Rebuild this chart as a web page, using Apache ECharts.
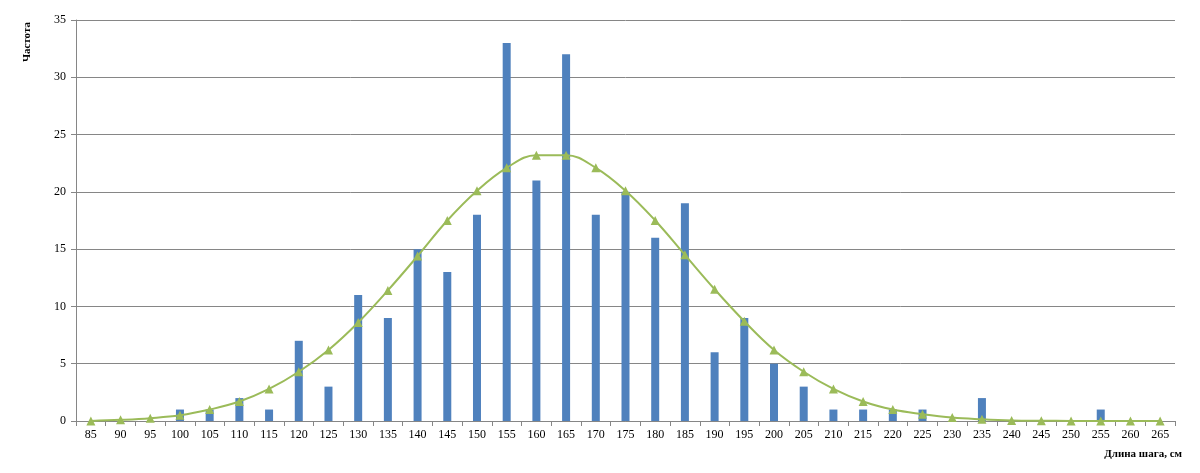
<!DOCTYPE html>
<html>
<head>
<meta charset="utf-8">
<script src="https://cdn.jsdelivr.net/npm/echarts@6/dist/echarts.min.js"></script>
<style>html,body{margin:0;padding:0;background:#fff}#chart{width:1200px;height:473px}</style>
</head>
<body>
<div id="chart"></div>
<script>
const categories = ['85','90','95','100','105','110','115','120','125','130','135','140','145','150','155','160','165','170','175','180','185','190','195','200','205','210','215','220','225','230','235','240','245','250','255','260','265'];
const frequency = [0,0,0,1,1,2,1,7,3,11,9,15,13,18,33,21,32,18,20,16,19,6,9,5,3,1,1,1,1,0,2,0,0,0,1,0,0];
const normalCurve = [0,0.1,0.25,0.5,1.0,1.7,2.8,4.3,6.2,8.6,11.4,14.4,17.5,20.1,22.1,23.2,23.2,22.1,20.1,17.5,14.5,11.5,8.7,6.2,4.3,2.8,1.7,1.0,0.6,0.3,0.15,0.05,0.02,0.01,0,0,0];

const chart = echarts.init(document.getElementById('chart'));
const font = '"Liberation Serif", "DejaVu Serif", serif';
chart.setOption({
  animation: false,
  graphic: [
    { type: 'text', left: 22, top: 22, rotation: Math.PI / 2,
      style: { text: 'Частота', fontFamily: font, fontWeight: 'bold', fontSize: 11, fill: '#000' } },
    { type: 'text', right: 18, top: 449,
      style: { text: 'Длина шага, см', fontFamily: font, fontWeight: 'bold', fontSize: 11, fill: '#000' } }
  ],
  grid: { left: 76, right: 25, top: 20, bottom: 52, outerBoundsMode: 'none' },
  xAxis: {
    type: 'category',
    data: categories,
    axisLine: { lineStyle: { color: '#868686' } },
    axisTick: { show: true, lineStyle: { color: '#868686' } },
    axisLabel: { fontFamily: font, fontSize: 12, color: '#000', interval: 0, margin: 8 }
  },
  yAxis: {
    type: 'value',
    min: 0, max: 35, interval: 5,
    axisLine: { show: true, lineStyle: { color: '#868686' } },
    axisTick: { show: true, lineStyle: { color: '#868686' } },
    splitLine: { lineStyle: { color: '#868686' } },
    axisLabel: { fontFamily: font, fontSize: 12, color: '#000', margin: 10 }
  },
  series: [
    {
      type: 'bar',
      data: frequency,
      barWidth: 8,
      itemStyle: { color: '#4F81BD' }
    },
    {
      type: 'line',
      data: normalCurve,
      smooth: 0.4,
      symbol: 'triangle',
      symbolSize: 9,
      lineStyle: { color: '#9BBB59', width: 2 },
      itemStyle: { color: '#9BBB59' }
    }
  ]
});
</script>
</body>
</html>
